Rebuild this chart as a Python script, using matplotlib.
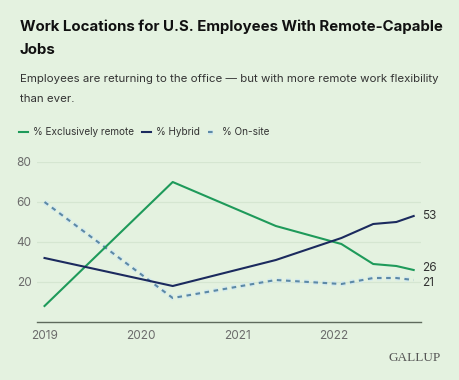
import matplotlib
matplotlib.use("Agg")
import matplotlib.pyplot as plt
import matplotlib.patheffects as pe

# Data
dates = [2019.0, 2020.33, 2021.40, 2022.08, 2022.41, 2022.65, 2022.83]
remote = [8, 70, 48, 39, 29, 28, 26]
hybrid = [32, 18, 31, 42, 49, 50, 53]
onsite = [60, 12, 21, 19, 22, 22, 21]
year_ticks = [2019, 2020, 2021, 2022]
year_labels = ["2019", "2020", "2021", "2022"]
y_ticks = [20, 40, 60, 80]

BG = "#E4F2E0"
GREEN = "#1E9A5A"
NAVY = "#1B2A5E"
BLUE = "#5C89A6"

plt.rcParams['font.family'] = ['Inter', 'DejaVu Sans']

fig = plt.figure(figsize=(4.6, 3.8), dpi=100, facecolor=BG)
ax = fig.add_axes([37/460, 1-322/380, (421-37)/460, (322-162)/380])
ax.set_facecolor(BG)

ax.set_xlim(2018.922, 2022.906)
ax.set_ylim(0, 80)

for y in y_ticks:
    ax.axhline(y, color="#D5E6D1", lw=0.9, zorder=0)

l1, = ax.plot(dates, remote, color=GREEN, lw=1.5, clip_on=False, zorder=3, label="% Exclusively remote")
l2, = ax.plot(dates, hybrid, color=NAVY, lw=1.5, clip_on=False, zorder=3, label="% Hybrid")
l3, = ax.plot(dates, onsite, color=BLUE, lw=1.5, ls=(0, (2.2, 2.2)), clip_on=False, zorder=2,
              label="% On-site",
              path_effects=[pe.Stroke(linewidth=3.5, foreground="#D3EAEE"), pe.Normal()])

for s in ["top", "right", "left"]:
    ax.spines[s].set_visible(False)
ax.spines["bottom"].set_color("#5E6A5C")
ax.spines["bottom"].set_linewidth(1.0)

ax.set_xticks(year_ticks)
ax.set_xticklabels(year_labels)
ax.set_yticks(y_ticks)
ax.set_yticklabels([str(v) for v in y_ticks])
ax.tick_params(axis="both", length=0, labelsize=8.5, labelcolor="#6B6B6B")
ax.tick_params(axis="x", pad=6)
ax.tick_params(axis="y", pad=4)

# end labels (small vertical nudges to avoid collision)
for series, dy in ((hybrid, 0), (remote, 1.5), (onsite, -2.5)):
    ax.annotate(str(series[-1]), xy=(dates[-1], series[-1]), xytext=(6, dy),
                textcoords="offset points", va="center", ha="left",
                fontsize=8.5, color="#333333", annotation_clip=False)

fig.text(20/460, 1-27/380, "Work Locations for U.S. Employees With Remote-Capable",
         fontsize=10.8, fontweight="bold", color="#111111", va="center", ha="left")
fig.text(20/460, 1-50/380, "Jobs",
         fontsize=10.8, fontweight="bold", color="#111111", va="center", ha="left")
fig.text(20/460, 1-79/380, "Employees are returning to the office \u2014 but with more remote work flexibility",
         fontsize=8.25, color="#333333", va="center", ha="left")
fig.text(20/460, 1-99/380, "than ever.",
         fontsize=8.25, color="#333333", va="center", ha="left")

leg = fig.legend(handles=[l1, l2, l3], loc="center left", bbox_to_anchor=(19/460, 1-132/380),
                 ncol=3, frameon=False, fontsize=7.2, handlelength=0.9, handletextpad=0.5,
                 columnspacing=0.8, labelcolor="#333333", borderaxespad=0, borderpad=0)

fig.text(415/460, 1-358/380, "GALLUP", family=["Liberation Serif", "DejaVu Serif"],
         fontsize=9.5, color="#555555", ha="center", va="center")

fig.savefig("out.png", dpi=100, facecolor=BG)
